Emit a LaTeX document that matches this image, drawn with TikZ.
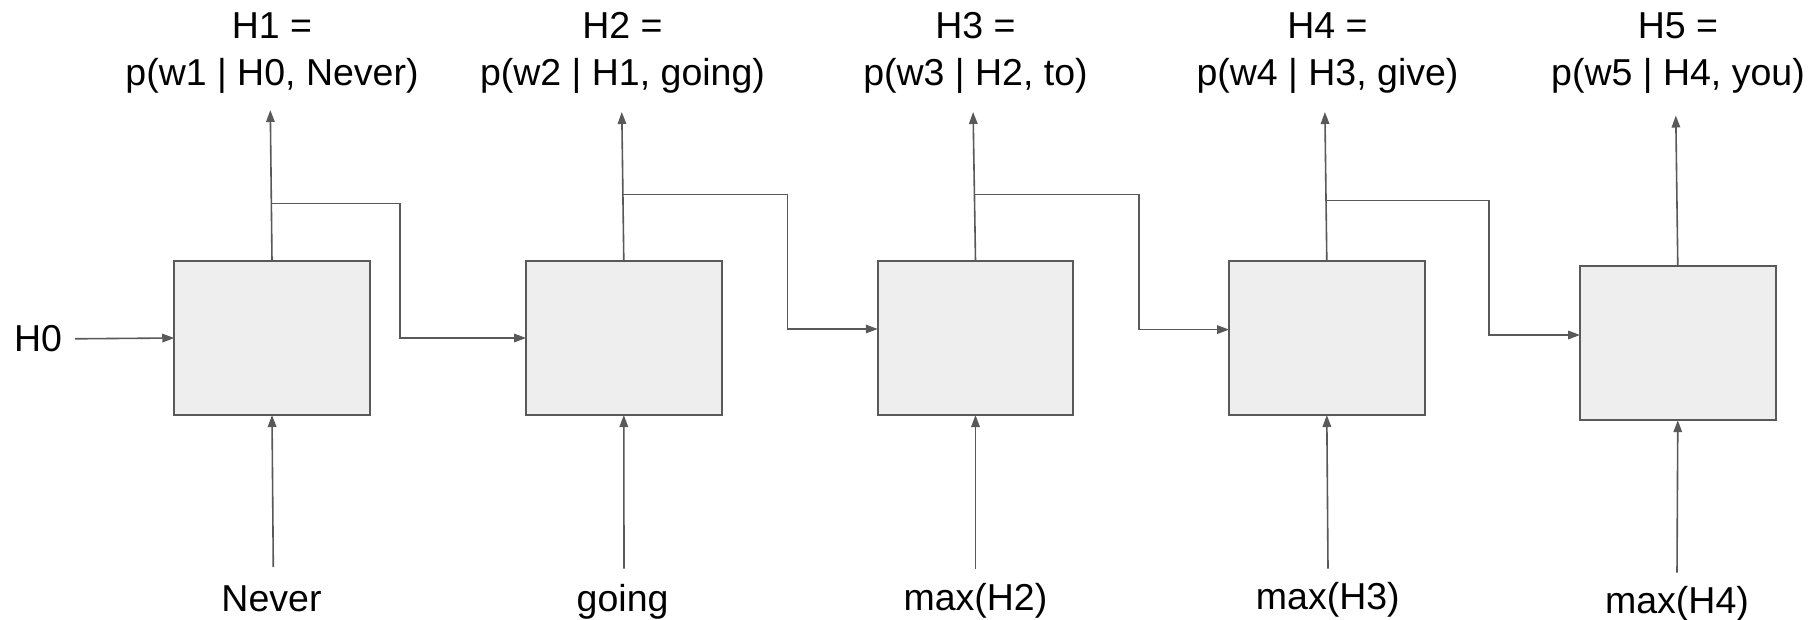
\documentclass[tikz,border=0pt]{standalone}
\usepackage{fontspec}
\setmainfont{Liberation Sans}
\usetikzlibrary{arrows.meta,calc}
\definecolor{ln}{HTML}{595959}
\definecolor{bx}{HTML}{EEEEEE}
\begin{document}
\begin{tikzpicture}[x=1pt,y=-1pt,
  cell/.style={draw=ln,fill=bx,line width=1.9pt,minimum width=195.5pt,minimum height=154pt,inner sep=0pt,outer sep=0pt},
  arr/.style={draw=ln,line width=1.6pt,-{Triangle[length=12pt,width=8.5pt]}},
  lbl/.style={font=\fontsize{37.5}{46.7}\selectfont,inner sep=0pt,align=center}]
\fill[white] (0,0) rectangle (1808,619);
\useasboundingbox (0,0) rectangle (1808,619);
% boxes
\node[cell] (b1) at (272,338) {};
\node[cell] (b2) at (623.8,338) {};
\node[cell] (b3) at (975.5,338) {};
\node[cell] (b4) at (1326.8,338) {};
\node[cell] (b5) at (1677.8,343.2) {};
% top labels (anchor base = baseline of last line)
\node[lbl,anchor=base] (o1) at (272,85) {H1 =\\p(w1 | H0, Never)};
\node[lbl,anchor=base] (o2) at (622.5,85) {H2 =\\p(w2 | H1, going)};
\node[lbl,anchor=base] (o3) at (975.5,85) {H3 =\\p(w3 | H2, to)};
\node[lbl,anchor=base] (o4) at (1327.5,85) {H4 =\\p(w4 | H3, give)};
\node[lbl,anchor=base] (o5) at (1678,85) {H5 =\\p(w5 | H4, you)};
% bottom labels
\node[lbl,anchor=base] (i1) at (271.5,611) {Never};
\node[lbl,anchor=base] (i2) at (622.6,611) {going};
\node[lbl,anchor=base] (i3) at (975.4,610) {max(H2)};
\node[lbl,anchor=base] (i4) at (1327.8,609) {max(H3)};
\node[lbl,anchor=base] (i5) at (1677,613) {max(H4)};
\node[lbl,anchor=base] (h0) at (38,351.7) {H0};
% coordinates
\coordinate (t1) at (270.3,110);
\coordinate (t2) at (621.8,112);
\coordinate (t3) at (973.1,112);
\coordinate (t4) at (1324.9,112);
\coordinate (t5) at (1675.8,115.5);
\coordinate (s1) at (273.3,567);
\coordinate (s2) at (624,568.5);
\coordinate (s3) at (975.5,568.5);
\coordinate (s4) at (1328,568.5);
\coordinate (s5) at (1677,572.5);
\coordinate (c1) at (400,338);
\coordinate (c2) at (787.5,329);
\coordinate (c3) at (1138.8,329.6);
\coordinate (c4) at (1489,335);
% input H0
\draw[arr] ([xshift=13pt]h0.east) -- (b1.west);
% upward outputs
\draw[arr] (b1.north) -- (t1);
\draw[arr] (b2.north) -- (t2);
\draw[arr] (b3.north) -- (t3);
\draw[arr] (b4.north) -- (t4);
\draw[arr] (b5.north) -- (t5);
% inputs from below
\draw[arr] (s1) -- (b1.south);
\draw[arr] (s2) -- (b2.south);
\draw[arr] (s3) -- (b3.south);
\draw[arr] (s4) -- (b4.south);
\draw[arr] (s5) -- (b5.south);
% recurrent connections
\draw[arr] ($(b1.north)!0.381!(t1)$) -| (c1) -- (b2.west |- c1);
\draw[arr] ($(b2.north)!0.446!(t2)$) -| (c2) -- (b3.west |- c2);
\draw[arr] ($(b3.north)!0.446!(t3)$) -| (c3) -- (b4.west |- c3);
\draw[arr] ($(b4.north)!0.406!(t4)$) -| (c4) -- (b5.west |- c4);
\end{tikzpicture}
\end{document}
